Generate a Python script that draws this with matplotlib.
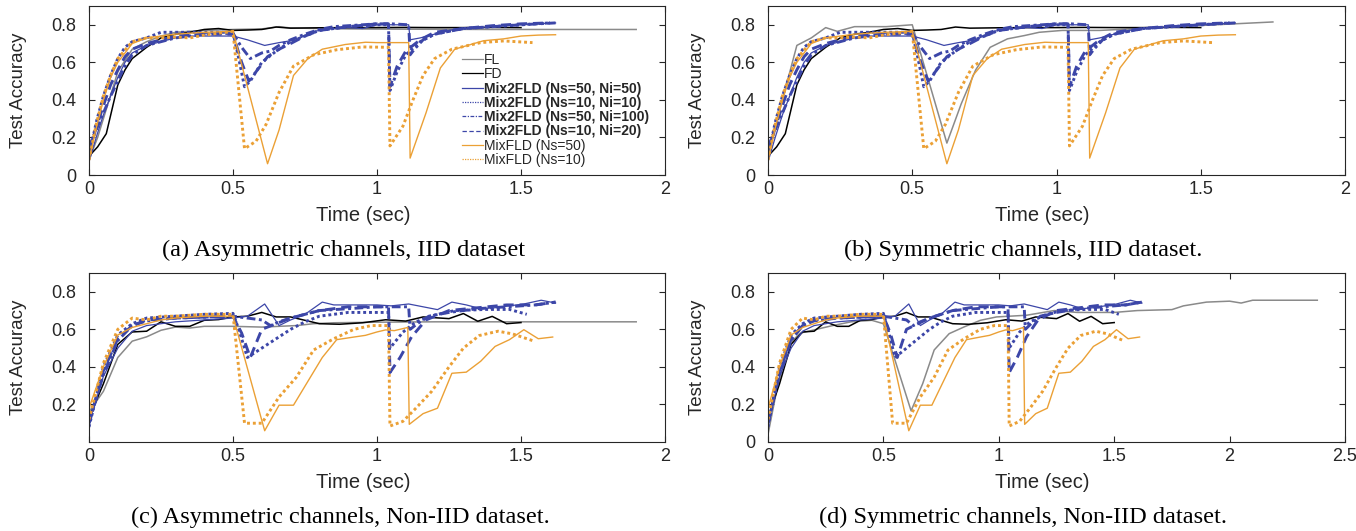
import matplotlib
matplotlib.use("Agg")
import matplotlib.pyplot as plt

plt.rcParams['font.family'] = ['Liberation Sans', 'DejaVu Sans']

# ---------------- data: IID (shared by panels a and b) ----------------
fd_iid_t = [0, 0.03, 0.06, 0.08, 0.1, 0.125, 0.15, 0.2, 0.25, 0.3, 0.35, 0.4, 0.45, 0.5, 0.55, 0.6, 0.65, 0.7, 0.8, 0.9, 1.0, 1.1, 1.2, 1.3, 1.4, 1.5]
fd_iid = [0.10, 0.15, 0.22, 0.35, 0.48, 0.56, 0.62, 0.68, 0.73, 0.75, 0.76, 0.775, 0.78, 0.77, 0.772, 0.775, 0.788, 0.782, 0.784, 0.785, 0.785, 0.786, 0.785, 0.785, 0.786, 0.785]

fl_a_t = [0, 0.03, 0.06, 0.1, 0.15, 0.2, 0.25, 0.3, 0.4, 0.5, 0.6, 0.66, 0.7, 0.8, 0.9, 1.0, 1.2, 1.4, 1.6, 1.8, 1.9]
fl_a = [0.08, 0.2, 0.35, 0.55, 0.67, 0.71, 0.74, 0.76, 0.77, 0.775, 0.778, 0.79, 0.783, 0.78, 0.778, 0.777, 0.776, 0.775, 0.775, 0.775, 0.775]

fl_b_t = [0, 0.05, 0.1, 0.15, 0.2, 0.24, 0.3, 0.41, 0.5, 0.62, 0.67, 0.72, 0.77, 0.83, 0.89, 0.94, 1.02, 1.15, 1.29, 1.42, 1.55, 1.75]
fl_b = [0.1, 0.4, 0.69, 0.73, 0.785, 0.765, 0.79, 0.79, 0.8, 0.17, 0.38, 0.56, 0.68, 0.725, 0.743, 0.76, 0.77, 0.77, 0.78, 0.79, 0.8, 0.815]

m2_50_50_iid_t = [0, 0.025, 0.05, 0.075, 0.1, 0.125, 0.15, 0.2, 0.25, 0.3, 0.35, 0.4, 0.45, 0.5, 0.55, 0.61, 0.66, 0.72, 0.78, 0.85, 0.9, 0.95, 1.0, 1.05, 1.11, 1.115, 1.15, 1.2, 1.25, 1.3, 1.4, 1.5, 1.62]
m2_50_50_iid = [0.07, 0.2, 0.32, 0.42, 0.52, 0.6, 0.65, 0.69, 0.71, 0.73, 0.74, 0.74, 0.74, 0.74, 0.72, 0.69, 0.705, 0.72, 0.765, 0.78, 0.785, 0.78, 0.8, 0.8, 0.8, 0.72, 0.73, 0.75, 0.77, 0.78, 0.79, 0.8, 0.81]

m2_10_10_iid_t = [0, 0.025, 0.05, 0.075, 0.1, 0.125, 0.15, 0.2, 0.25, 0.3, 0.4, 0.5, 0.52, 0.54, 0.56, 0.6, 0.65, 0.7, 0.75, 0.8, 0.9, 1.0, 1.04, 1.045, 1.07, 1.1, 1.15, 1.2, 1.3, 1.4, 1.5, 1.6]
m2_10_10_iid = [0.1, 0.28, 0.42, 0.53, 0.62, 0.68, 0.71, 0.73, 0.76, 0.76, 0.76, 0.76, 0.62, 0.47, 0.5, 0.6, 0.66, 0.71, 0.74, 0.77, 0.79, 0.8, 0.8, 0.45, 0.55, 0.64, 0.71, 0.75, 0.78, 0.79, 0.8, 0.81]

m2_50_100_iid_t = [0, 0.025, 0.05, 0.075, 0.1, 0.125, 0.15, 0.2, 0.25, 0.3, 0.4, 0.5, 0.53, 0.56, 0.6, 0.63, 0.66, 0.7, 0.75, 0.8, 0.85, 0.9, 1.0, 1.05, 1.11, 1.115, 1.13, 1.16, 1.2, 1.3, 1.4, 1.5, 1.62]
m2_50_100_iid = [0.15, 0.24, 0.33, 0.42, 0.5, 0.58, 0.64, 0.69, 0.71, 0.73, 0.75, 0.755, 0.68, 0.62, 0.65, 0.66, 0.69, 0.72, 0.75, 0.775, 0.79, 0.795, 0.805, 0.805, 0.8, 0.64, 0.67, 0.72, 0.75, 0.78, 0.79, 0.8, 0.81]

m2_10_20_iid_t = [0, 0.025, 0.05, 0.075, 0.1, 0.125, 0.15, 0.2, 0.25, 0.3, 0.4, 0.5, 0.53, 0.555, 0.58, 0.62, 0.66, 0.7, 0.75, 0.8, 0.9, 1.0, 1.04, 1.045, 1.07, 1.1, 1.15, 1.2, 1.3, 1.4, 1.5, 1.6]
m2_10_20_iid = [0.13, 0.25, 0.37, 0.48, 0.56, 0.63, 0.67, 0.7, 0.72, 0.74, 0.75, 0.75, 0.6, 0.5, 0.55, 0.63, 0.67, 0.7, 0.74, 0.77, 0.79, 0.805, 0.805, 0.47, 0.58, 0.66, 0.72, 0.76, 0.78, 0.795, 0.805, 0.81]

mix_50_iid_t = [0, 0.025, 0.05, 0.075, 0.1, 0.15, 0.2, 0.25, 0.3, 0.4, 0.5, 0.62, 0.66, 0.71, 0.76, 0.81, 0.89, 0.96, 1.0, 1.11, 1.115, 1.17, 1.22, 1.27, 1.37, 1.44, 1.5, 1.56, 1.62]
mix_50_iid = [0.08, 0.25, 0.4, 0.52, 0.6, 0.7, 0.73, 0.74, 0.75, 0.76, 0.765, 0.06, 0.24, 0.53, 0.62, 0.67, 0.695, 0.707, 0.705, 0.705, 0.09, 0.33, 0.57, 0.67, 0.715, 0.725, 0.74, 0.745, 0.747]

mix_10_iid_t = [0, 0.025, 0.05, 0.075, 0.1, 0.15, 0.2, 0.25, 0.3, 0.35, 0.4, 0.5, 0.54, 0.58, 0.615, 0.66, 0.71, 0.78, 0.86, 0.95, 1.04, 1.045, 1.09, 1.125, 1.16, 1.2, 1.26, 1.36, 1.44, 1.54]
mix_10_iid = [0.08, 0.27, 0.42, 0.53, 0.62, 0.71, 0.73, 0.73, 0.735, 0.73, 0.745, 0.765, 0.14, 0.18, 0.27, 0.44, 0.58, 0.64, 0.667, 0.682, 0.68, 0.155, 0.26, 0.4, 0.53, 0.62, 0.67, 0.705, 0.714, 0.705]

# ---------------- data: Non-IID (shared by panels c and d) ----------------
fd_non_t = [0, 0.05, 0.1, 0.15, 0.2, 0.25, 0.3, 0.35, 0.4, 0.45, 0.5, 0.55, 0.6, 0.65, 0.7, 0.75, 0.8, 0.87, 0.95, 1.03, 1.1, 1.16, 1.25, 1.3, 1.35, 1.4, 1.45, 1.5]
fd_non = [0.13, 0.31, 0.52, 0.586, 0.59, 0.64, 0.616, 0.616, 0.648, 0.652, 0.666, 0.67, 0.69, 0.666, 0.666, 0.648, 0.63, 0.627, 0.635, 0.651, 0.644, 0.666, 0.657, 0.684, 0.643, 0.669, 0.63, 0.636]

fl_c_t = [0, 0.05, 0.1, 0.15, 0.2, 0.25, 0.3, 0.35, 0.4, 0.5, 0.6, 0.72, 0.78, 0.85, 1.0, 1.2, 1.4, 1.6, 1.9]
fl_c = [0.16, 0.27, 0.45, 0.537, 0.56, 0.595, 0.612, 0.607, 0.616, 0.616, 0.612, 0.62, 0.63, 0.635, 0.638, 0.64, 0.64, 0.64, 0.64]

fl_d_t = [0, 0.04, 0.09, 0.14, 0.21, 0.28, 0.36, 0.45, 0.5, 0.62, 0.67, 0.72, 0.785, 0.85, 0.92, 0.99, 1.12, 1.24, 1.34, 1.5, 1.6, 1.75, 1.8, 1.9, 2.0, 2.05, 2.1, 2.2, 2.38]
fl_d = [0.04, 0.29, 0.52, 0.58, 0.6, 0.62, 0.64, 0.648, 0.63, 0.166, 0.31, 0.49, 0.577, 0.613, 0.648, 0.666, 0.675, 0.70, 0.69, 0.69, 0.70, 0.705, 0.725, 0.745, 0.75, 0.74, 0.755, 0.755, 0.755]

m2_50_50_non_t = [0, 0.05, 0.1, 0.15, 0.2, 0.3, 0.4, 0.5, 0.55, 0.61, 0.66, 0.7, 0.75, 0.81, 0.85, 0.9, 1.0, 1.05, 1.11, 1.16, 1.21, 1.26, 1.31, 1.36, 1.41, 1.46, 1.51, 1.57, 1.62]
m2_50_50_non = [0.1, 0.35, 0.5, 0.59, 0.62, 0.64, 0.65, 0.66, 0.67, 0.735, 0.62, 0.65, 0.68, 0.745, 0.73, 0.73, 0.73, 0.725, 0.735, 0.72, 0.705, 0.745, 0.73, 0.71, 0.715, 0.725, 0.735, 0.755, 0.74]

m2_10_10_non_t = [0, 0.05, 0.1, 0.15, 0.2, 0.3, 0.4, 0.5, 0.52, 0.55, 0.6, 0.65, 0.7, 0.75, 0.8, 0.9, 1.0, 1.04, 1.045, 1.09, 1.135, 1.2, 1.27, 1.38, 1.46, 1.52]
m2_10_10_non = [0.08, 0.4, 0.57, 0.63, 0.66, 0.67, 0.68, 0.685, 0.6, 0.45, 0.5, 0.55, 0.6, 0.64, 0.67, 0.69, 0.69, 0.69, 0.5, 0.585, 0.64, 0.676, 0.7, 0.706, 0.706, 0.68]

m2_50_100_non_t = [0, 0.05, 0.1, 0.15, 0.2, 0.3, 0.4, 0.5, 0.55, 0.6, 0.63, 0.66, 0.7, 0.8, 0.9, 1.0, 1.05, 1.11, 1.115, 1.14, 1.18, 1.25, 1.35, 1.45, 1.55, 1.62]
m2_50_100_non = [0.1, 0.36, 0.54, 0.62, 0.645, 0.66, 0.665, 0.67, 0.66, 0.65, 0.62, 0.64, 0.66, 0.7, 0.71, 0.72, 0.72, 0.72, 0.6, 0.63, 0.67, 0.69, 0.71, 0.72, 0.73, 0.745]

m2_10_20_non_t = [0, 0.05, 0.1, 0.15, 0.2, 0.3, 0.4, 0.5, 0.53, 0.56, 0.6, 0.65, 0.7, 0.8, 0.9, 1.0, 1.04, 1.045, 1.08, 1.12, 1.17, 1.25, 1.35, 1.45, 1.55, 1.62]
m2_10_20_non = [0.1, 0.38, 0.55, 0.62, 0.65, 0.66, 0.665, 0.67, 0.58, 0.45, 0.6, 0.63, 0.66, 0.7, 0.72, 0.72, 0.72, 0.37, 0.45, 0.56, 0.65, 0.7, 0.715, 0.73, 0.73, 0.745]

mix_50_non_t = [0, 0.05, 0.1, 0.15, 0.2, 0.25, 0.3, 0.4, 0.5, 0.61, 0.66, 0.71, 0.81, 0.86, 0.92, 0.96, 1.0, 1.03, 1.06, 1.107, 1.112, 1.16, 1.21, 1.26, 1.31, 1.36, 1.41, 1.46, 1.51, 1.56, 1.61]
mix_50_non = [0.18, 0.4, 0.57, 0.61, 0.63, 0.65, 0.66, 0.67, 0.67, 0.06, 0.196, 0.196, 0.45, 0.545, 0.559, 0.568, 0.586, 0.597, 0.593, 0.61, 0.094, 0.151, 0.18, 0.366, 0.372, 0.43, 0.509, 0.545, 0.598, 0.55, 0.559]

mix_10_non_t = [0, 0.05, 0.1, 0.15, 0.2, 0.25, 0.3, 0.4, 0.5, 0.54, 0.6, 0.66, 0.72, 0.78, 0.85, 0.92, 0.98, 1.04, 1.045, 1.09, 1.135, 1.19, 1.25, 1.3, 1.355, 1.42, 1.47, 1.54]
mix_10_non = [0.12, 0.42, 0.6, 0.66, 0.65, 0.67, 0.67, 0.68, 0.68, 0.1, 0.1, 0.24, 0.345, 0.49, 0.55, 0.6, 0.62, 0.62, 0.085, 0.11, 0.18, 0.27, 0.4, 0.5, 0.567, 0.59, 0.576, 0.54]

labels = ["FL", "FD",
          "Mix2FLD (Ns=50, Ni=50)", "Mix2FLD (Ns=10, Ni=10)",
          "Mix2FLD (Ns=50, Ni=100)", "Mix2FLD (Ns=10, Ni=20)",
          "MixFLD (Ns=50)", "MixFLD (Ns=10)"]
captions = ["(a) Asymmetric channels, IID dataset",
            "(b) Symmetric channels, IID dataset.",
            "(c) Asymmetric channels, Non-IID dataset.",
            "(d) Symmetric channels, Non-IID dataset."]

# ---------------- styling ----------------
GRAY = "#8a8a8a"
BLACK = "#000000"
BLUE = "#3c46a8"
ORANGE = "#eba035"
AXC = "#262626"

styles = [
    dict(color=GRAY, lw=1.1, ls="-"),
    dict(color=BLACK, lw=1.1, ls="-"),
    dict(color=BLUE, lw=0.9, ls="-"),
    dict(color=BLUE, lw=2.1, ls=(0, (1, 1))),
    dict(color=BLUE, lw=2.1, ls=(0, (3, 1.2, 1, 1.2))),
    dict(color=BLUE, lw=2.1, ls=(0, (3.5, 2))),
    dict(color=ORANGE, lw=1.0, ls="-"),
    dict(color=ORANGE, lw=2.1, ls=(0, (1, 1))),
]

iid_series = [(fd_iid_t, fd_iid), (m2_50_50_iid_t, m2_50_50_iid), (m2_10_10_iid_t, m2_10_10_iid),
              (m2_50_100_iid_t, m2_50_100_iid), (m2_10_20_iid_t, m2_10_20_iid),
              (mix_50_iid_t, mix_50_iid), (mix_10_iid_t, mix_10_iid)]
non_series = [(fd_non_t, fd_non), (m2_50_50_non_t, m2_50_50_non), (m2_10_10_non_t, m2_10_10_non),
              (m2_50_100_non_t, m2_50_100_non), (m2_10_20_non_t, m2_10_20_non),
              (mix_50_non_t, mix_50_non), (mix_10_non_t, mix_10_non)]

panels = [
    dict(fl=(fl_a_t, fl_a), rest=iid_series, xmax=2.0, xt=[0, 0.5, 1, 1.5, 2], yt=[0, 0.2, 0.4, 0.6, 0.8]),
    dict(fl=(fl_b_t, fl_b), rest=iid_series, xmax=2.0, xt=[0, 0.5, 1, 1.5, 2], yt=[0, 0.2, 0.4, 0.6, 0.8]),
    dict(fl=(fl_c_t, fl_c), rest=non_series, xmax=2.0, xt=[0, 0.5, 1, 1.5, 2], yt=[0.2, 0.4, 0.6, 0.8]),
    dict(fl=(fl_d_t, fl_d), rest=non_series, xmax=2.5, xt=[0, 0.5, 1, 1.5, 2, 2.5], yt=[0, 0.2, 0.4, 0.6, 0.8]),
]

W, H = 1356, 531
fig = plt.figure(figsize=(W / 100, H / 100), dpi=100)

# axes pixel boxes: (left, top, right, bottom)
boxes = [(89, 6, 665, 175), (768, 6, 1345, 175), (89, 273, 665, 442), (768, 273, 1345, 442)]
cap_pos = [(344, 250), (1023, 250), (340, 517), (1023, 517)]

for i, (p, box) in enumerate(zip(panels, boxes)):
    l, t, r, b = box
    ax = fig.add_axes([l / W, 1 - b / H, (r - l) / W, (b - t) / H])
    series = [p["fl"]] + p["rest"]
    lines = []
    for (xs, ys), st in zip(series, styles):
        ln, = ax.plot(xs, ys, color=st["color"], lw=st["lw"], linestyle=st["ls"])
        lines.append(ln)
    ax.set_xlim(0, p["xmax"])
    ax.set_ylim(0, 0.9)
    ax.set_xticks(p["xt"])
    ax.set_xticklabels([f"{v:g}" for v in p["xt"]])
    ax.set_yticks(p["yt"])
    ax.set_yticklabels([f"{v:g}" for v in p["yt"]])
    ax.tick_params(direction="in", length=4.5, width=0.8, colors=AXC, labelsize=13,
                   top=True, right=True)
    ax.tick_params(axis="y", pad=9)
    ax.tick_params(axis="x", pad=4)
    for s in ax.spines.values():
        s.set_color(AXC)
        s.set_linewidth(0.8)
    ax.set_xlabel("Time (sec)", fontsize=14.5, color=AXC)
    ax.set_ylabel("Test Accuracy", fontsize=13.5, color=AXC)
    ax.xaxis.set_label_coords(0.476, -0.237)
    ax.xaxis.label.set_va("center")
    ax.yaxis.set_label_coords(-0.123, 0.5)
    ax.yaxis.label.set_va("center")
    fig.text(cap_pos[i][0] / W, 1 - cap_pos[i][1] / H, captions[i],
             family=["Liberation Serif", "DejaVu Serif"], fontsize=17.5,
             ha="center", va="center", color="black")
    if i == 0:
        leg = ax.legend(lines, labels, loc="upper left",
                        bbox_to_anchor=((462 - l) / (r - l), (b - 53) / (b - t)),
                        frameon=False, fontsize=10, borderpad=0, borderaxespad=0,
                        handlelength=1.5, handletextpad=0.1, labelspacing=0.02)
        for ll in leg.get_lines():
            ll.set_linewidth(0.9)
        for k, txt in enumerate(leg.get_texts()):
            txt.set_color(AXC)
            if labels[k].startswith("Mix2FLD"):
                txt.set_fontweight("bold")

fig.savefig("out.png", dpi=100)
